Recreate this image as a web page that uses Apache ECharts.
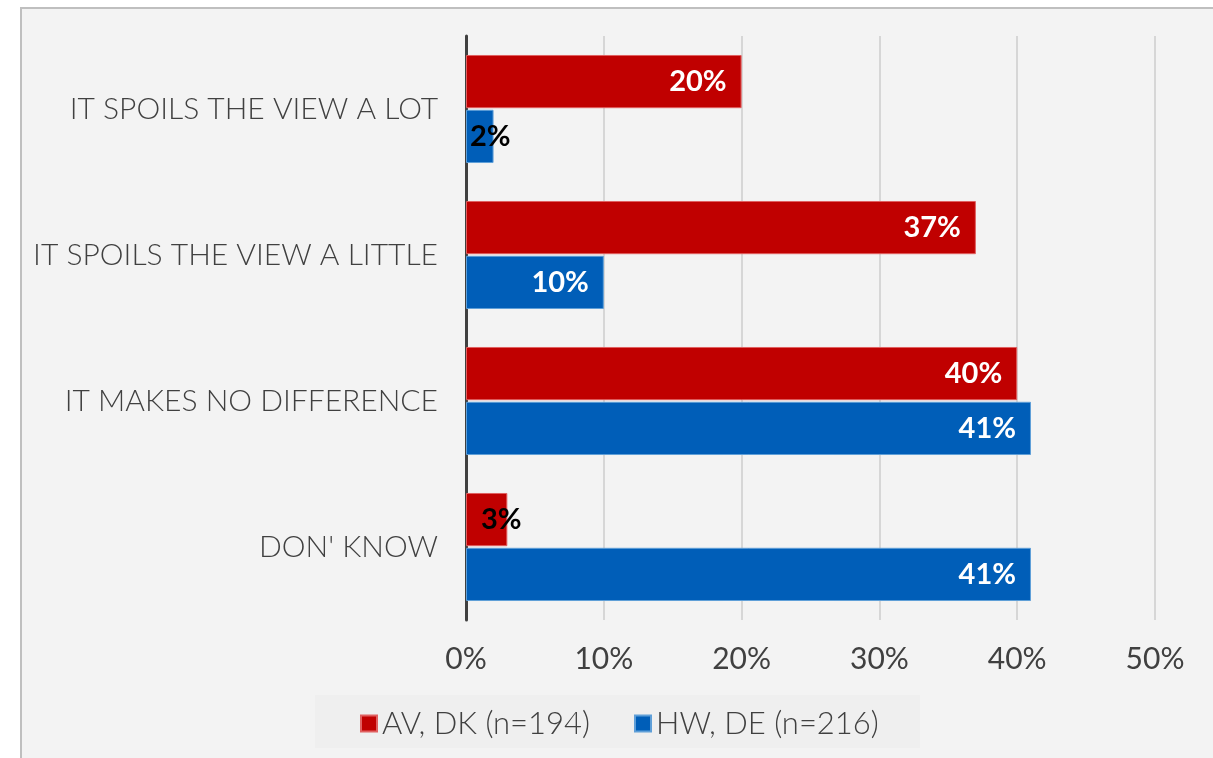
<!DOCTYPE html>
<html>
<head>
<meta charset="utf-8">
<script src="https://cdn.jsdelivr.net/npm/echarts@6/dist/echarts.min.js"></script>
<style>
html,body{margin:0;padding:0;background:#ffffff;}
#chart{width:1213px;height:758px;}
</style>
</head>
<body>
<div id="chart"></div>
<script>
const categories = ['IT SPOILS THE VIEW A LOT', 'IT SPOILS THE VIEW A LITTLE', 'IT MAKES NO DIFFERENCE', "DON' KNOW"];
const seriesNames = ['AV, DK (n=194)', 'HW, DE (n=216)'];
const avDk = [20, 37, 40, 3];
const hwDe = [2, 10, 41, 41];
const xTicks = [0, 10, 20, 30, 40, 50];

const FONT = 'Lato, "Open Sans", sans-serif';
const chart = echarts.init(document.getElementById('chart'));

function makeData(vals) {
  return vals.map(v => {
    if (v < 5) {
      return {
        value: v,
        label: { position: 'insideLeft', color: '#000000', distance: v < 3 ? 4 : 15 }
      };
    }
    return v;
  });
}

chart.setOption({
  animation: false,
  backgroundColor: '#ffffff',
  graphic: [
    { type: 'rect', z: -10, shape: { x: 21, y: 8, width: 1300, height: 800 },
      style: { fill: '#f3f3f3', stroke: '#bfbfbf', lineWidth: 2 } },
    { type: 'rect', z: -9, shape: { x: 315, y: 695, width: 605, height: 53 },
      style: { fill: '#efefef' } }
  ],
  grid: { left: 466, right: 58, top: 36, bottom: 138 },
  legend: {
    left: 355, top: 703,
    icon: 'rect', itemWidth: 16, itemHeight: 16, itemGap: 44,
    textStyle: { fontFamily: FONT, fontSize: 31, color: '#404040', fontWeight: 300 },
    data: seriesNames
  },
  xAxis: {
    type: 'value', min: 0, max: 50, interval: 10,
    axisLine: { show: false }, axisTick: { show: false },
    splitLine: { lineStyle: { color: '#d6d6d6', width: 2 } },
    axisLabel: { formatter: v => xTicks.includes(v) ? v + '%' : '', fontFamily: FONT, fontSize: 30, color: '#404040', margin: 24 }
  },
  yAxis: {
    type: 'category', inverse: true, data: categories,
    axisLine: { lineStyle: { color: '#404040', width: 3 } },
    axisTick: { show: false },
    axisLabel: { fontFamily: FONT, fontSize: 30, color: '#404040', margin: 28, fontWeight: 300 }
  },
  series: [
    {
      name: seriesNames[0], type: 'bar', data: makeData(avDk),
      barCategoryGap: '26%', barGap: '3%',
      itemStyle: { color: '#c00000', borderColor: '#e06060', borderWidth: 1 },
      label: { show: true, position: 'insideRight', distance: 15, formatter: '{c}%', color: '#ffffff', fontWeight: 'bold', fontFamily: FONT, fontSize: 29 }
    },
    {
      name: seriesNames[1], type: 'bar', data: makeData(hwDe),
      barCategoryGap: '26%', barGap: '3%',
      itemStyle: { color: '#005eb8', borderColor: '#5f9fd8', borderWidth: 1 },
      label: { show: true, position: 'insideRight', distance: 15, formatter: '{c}%', color: '#ffffff', fontWeight: 'bold', fontFamily: FONT, fontSize: 29 }
    }
  ]
});
</script>
</body>
</html>
